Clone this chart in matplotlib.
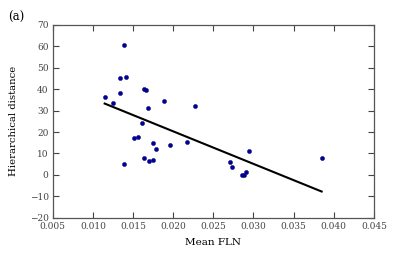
import numpy as np
import matplotlib.pyplot as plt

# values
mean_fln = [0.01147, 0.01247, 0.01334, 0.01342, 0.01388, 0.01409, 0.01637, 0.01661,
            0.0169, 0.01882, 0.02271, 0.01608, 0.01388, 0.01508, 0.01562, 0.01637,
            0.01695, 0.01752, 0.01752, 0.01786, 0.0196, 0.02172, 0.02703, 0.02732,
            0.02857, 0.02878, 0.0291, 0.02948, 0.03849]
hier_dist = [36.2, 33.7, 38.2, 45.4, 60.5, 45.7, 40.0, 39.6,
             31.0, 34.6, 32.3, 24.3, 4.9, 17.3, 17.8, 7.7,
             6.4, 6.9, 15.0, 12.1, 14.1, 15.3, 6.1, 3.8,
             -0.1, -0.1, 1.3, 11.0, 8.0]

xticks = [0.005, 0.010, 0.015, 0.020, 0.025, 0.030, 0.035, 0.040, 0.045]
yticks = [-20, -10, 0, 10, 20, 30, 40, 50, 60, 70]

plt.rcParams['font.family'] = 'DejaVu Serif'

fig = plt.figure(figsize=(4.15, 2.57), dpi=100)
ax = fig.add_axes([0.127, 0.153, 0.774, 0.750])

x = np.array(mean_fln)
y = np.array(hier_dist)
slope, icpt = np.polyfit(x, y, 1)
xl = np.array([x.min(), x.max()])
ax.plot(xl, slope * xl + icpt, color='black', lw=1.5)
ax.scatter(x, y, s=9, color='#0000a0', edgecolors='#000060', linewidths=0.3, zorder=3)

ax.set_xlim(0.005, 0.045)
ax.set_ylim(-20, 70)
ax.set_xticks(xticks)
ax.set_yticks(yticks)
ax.set_xticklabels(['%.3f' % t for t in xticks])
ax.set_yticklabels(['\u2212%d' % -t if t < 0 else '%d' % t for t in yticks])
ax.tick_params(direction='in', top=True, right=True, labelsize=6.5, length=4,
               width=0.8, colors='#444444', labelcolor='#444444', pad=3)
for s in ax.spines.values():
    s.set_color('#555555')
    s.set_linewidth(0.9)

ax.set_xlabel('Mean FLN', fontsize=7.5, labelpad=5)
ax.set_ylabel('Hierarchical distance', fontsize=7.3, labelpad=8)
fig.text(0.02, 0.92, '(a)', fontsize=8.5)

fig.savefig('out.png', dpi=100)
